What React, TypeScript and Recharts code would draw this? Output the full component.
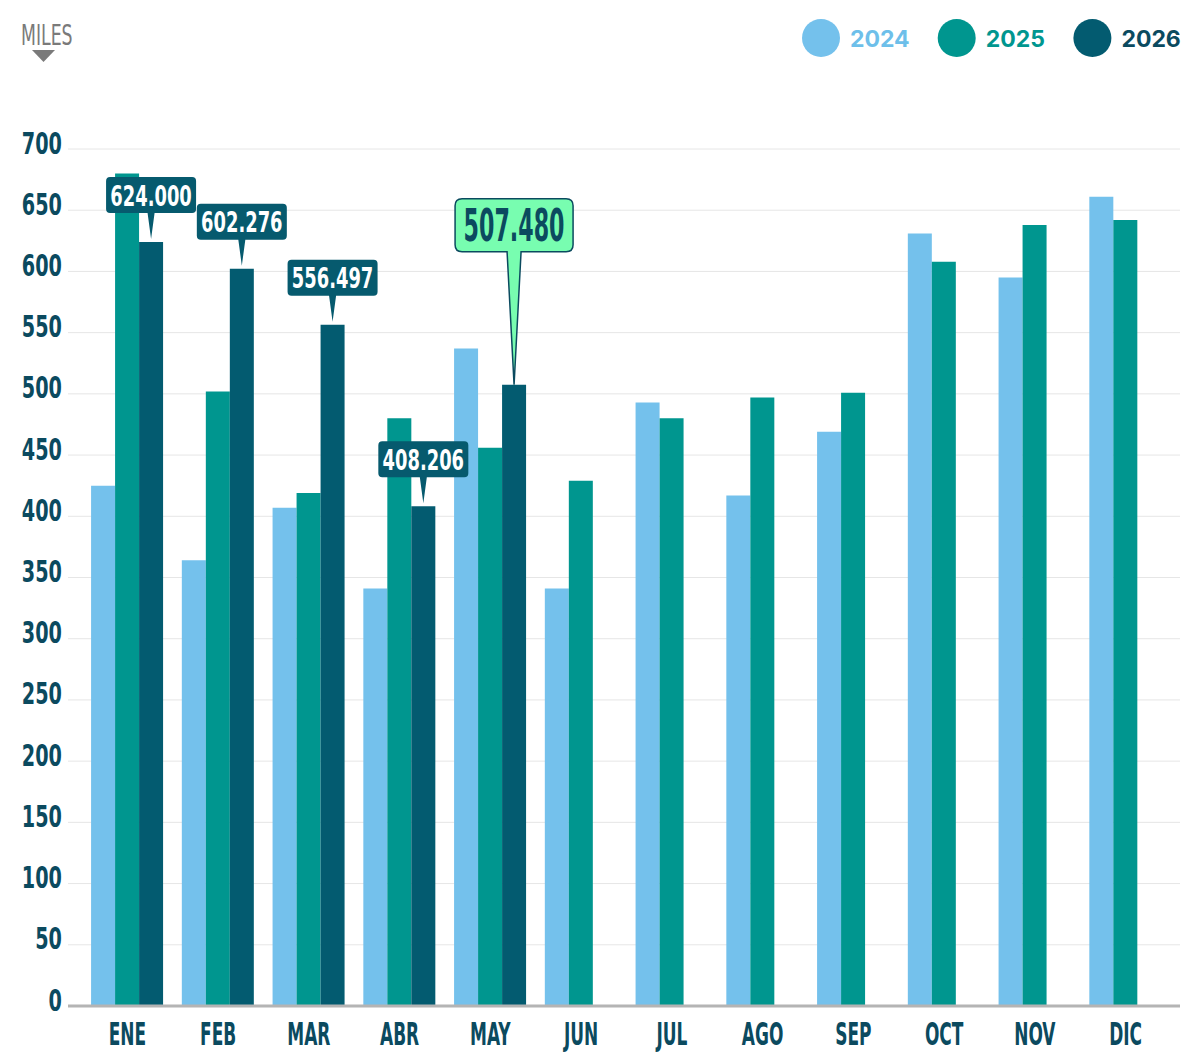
import React from 'react';
import { BarChart, Bar, XAxis, YAxis, CartesianGrid, LabelList } from 'recharts';

const months = ['ENE', 'FEB', 'MAR', 'ABR', 'MAY', 'JUN', 'JUL', 'AGO', 'SEP', 'OCT', 'NOV', 'DIC'];
const sales2024 = [425, 364, 407, 341, 537, 341, 493, 417, 469, 631, 595, 661];
const sales2025 = [680, 502, 419, 480, 456, 429, 480, 497, 501, 608, 638, 642];
const sales2026 = [624.0, 602.276, 556.497, 408.206, 507.48, null, null, null, null, null, null, null];
const yTicks = [0, 50, 100, 150, 200, 250, 300, 350, 400, 450, 500, 550, 600, 650, 700];
const highlightMonth = 'MAY';

const C2024 = '#74c1ec';
const C2025 = '#00968f';
const C2026 = '#035b70';
const INK = '#0b4a5f';
const NARROW = '"DejaVu Sans Condensed", "Liberation Sans", sans-serif';

const data = months.map((m, i) => ({
    month: m,
    y2024: sales2024[i],
    y2025: sales2025[i],
    y2026: sales2026[i],
}));

const legendItems = [
    { label: '2024', color: C2024, text: '#6dbfea' },
    { label: '2025', color: C2025, text: C2025 },
    { label: '2026', color: C2026, text: INK },
];

// squeezed text, anchored at (x, y)
function Narrow({ x, y, scale, children, ...rest }: any) {
    return (
        <g transform={`translate(${x},${y}) scale(${scale},1)`}>
            <text x={0} y={0} fontFamily={NARROW} fontWeight="bold" {...rest}>{children}</text>
        </g>
    );
}

function YTick({ x, y, payload }: any) {
    return (
        <Narrow x={x - 6} y={y + 4.5} scale={0.69} textAnchor="end" fontSize={31} fill={INK}>
            {payload.value}
        </Narrow>
    );
}

function XTick({ x, y, payload }: any) {
    return (
        <Narrow x={x} y={y + 39} scale={0.59} textAnchor="middle" fontSize={32} fill={INK}>
            {payload.value}
        </Narrow>
    );
}

// rounded box with a pointer that reaches down to the bar top
function calloutPath(cx: number, tipY: number, w: number, h: number, gap: number, half: number, r: number) {
    const L = cx - w / 2, R = cx + w / 2, B = tipY - gap, T = B - h;
    return `M${L + r},${T} H${R - r} Q${R},${T} ${R},${T + r} V${B - r} Q${R},${B} ${R - r},${B} ` +
        `H${cx + half} L${cx},${tipY} L${cx - half},${B} H${L + r} Q${L},${B} ${L},${B - r} V${T + r} Q${L},${T} ${L + r},${T} Z`;
}

function Callout(props: any) {
    const { x, y, width, value, index } = props;
    if (value == null) return null;
    const cx = x + width / 2;
    const text = Number(value).toFixed(3);
    if (months[index] === highlightMonth) {
        const B = y - 133;
        return (
            <g>
                <path d={calloutPath(cx, y, 118, 53, 133, 7, 7)} fill="#78fdb0" stroke={INK} strokeWidth={1.5} />
                <Narrow x={cx} y={B - 26.5} scale={0.56} textAnchor="middle" dominantBaseline="central" fontSize={44} fill={INK}>
                    {text}
                </Narrow>
            </g>
        );
    }
    const B = y - 29;
    return (
        <g>
            <path d={calloutPath(cx, y - 3, 90, 36, 26, 3.5, 4)} fill="#065a6e" />
            <Narrow x={cx} y={B - 17} scale={0.71} textAnchor="middle" dominantBaseline="central" fontSize={28} fill="#ffffff">
                {text}
            </Narrow>
        </g>
    );
}

export default function App() {
    return (
        <div style={{ position: 'absolute', left: 0, top: 0, width: 1200, height: 1059, background: '#fff' }}>
            <BarChart
                width={1200}
                height={1059}
                data={data}
                margin={{ top: 149, right: 20, bottom: 0, left: 0 }}
                barCategoryGap="10%"
                barGap={0}
            >
                <CartesianGrid vertical={false} stroke="#e6e6e6" strokeWidth={1} />
                <XAxis
                    dataKey="month"
                    height={53}
                    padding={{ left: 14, right: 9 }}
                    axisLine={{ stroke: '#b4b4b4', strokeWidth: 3 }}
                    tickLine={false}
                    tickSize={0}
                    tickMargin={0}
                    tick={<XTick />}
                    interval={0}
                />
                <YAxis
                    width={68}
                    domain={[0, 700]}
                    ticks={yTicks}
                    axisLine={false}
                    tickLine={false}
                    tickSize={0}
                    tickMargin={0}
                    tick={<YTick />}
                    interval={0}
                />
                <Bar dataKey="y2024" fill={C2024} isAnimationActive={false} />
                <Bar dataKey="y2025" fill={C2025} isAnimationActive={false} />
                <Bar dataKey="y2026" fill={C2026} isAnimationActive={false}>
                    <LabelList dataKey="y2026" content={<Callout />} />
                </Bar>
            </BarChart>
            <svg width={1200} height={80} style={{ position: 'absolute', left: 0, top: 0, pointerEvents: 'none' }}>
                <Narrow x={21} y={45} scale={0.7} fontSize={27.5} fill="#7a7a7a" fontWeight="normal">MILES</Narrow>
                <polygon points="32,50 55,50 43.5,62" fill="#7a7a7a" />
                {legendItems.map((item, i) => {
                    const cx = 821 + i * 135.7;
                    return (
                        <g key={item.label}>
                            <circle cx={cx} cy={38} r={19} fill={item.color} />
                            <text x={cx + 29} y={46.5} fontFamily="Inter, sans-serif" fontWeight={700} fontSize={23} fill={item.text}>
                                {item.label}
                            </text>
                        </g>
                    );
                })}
            </svg>
        </div>
    );
}
